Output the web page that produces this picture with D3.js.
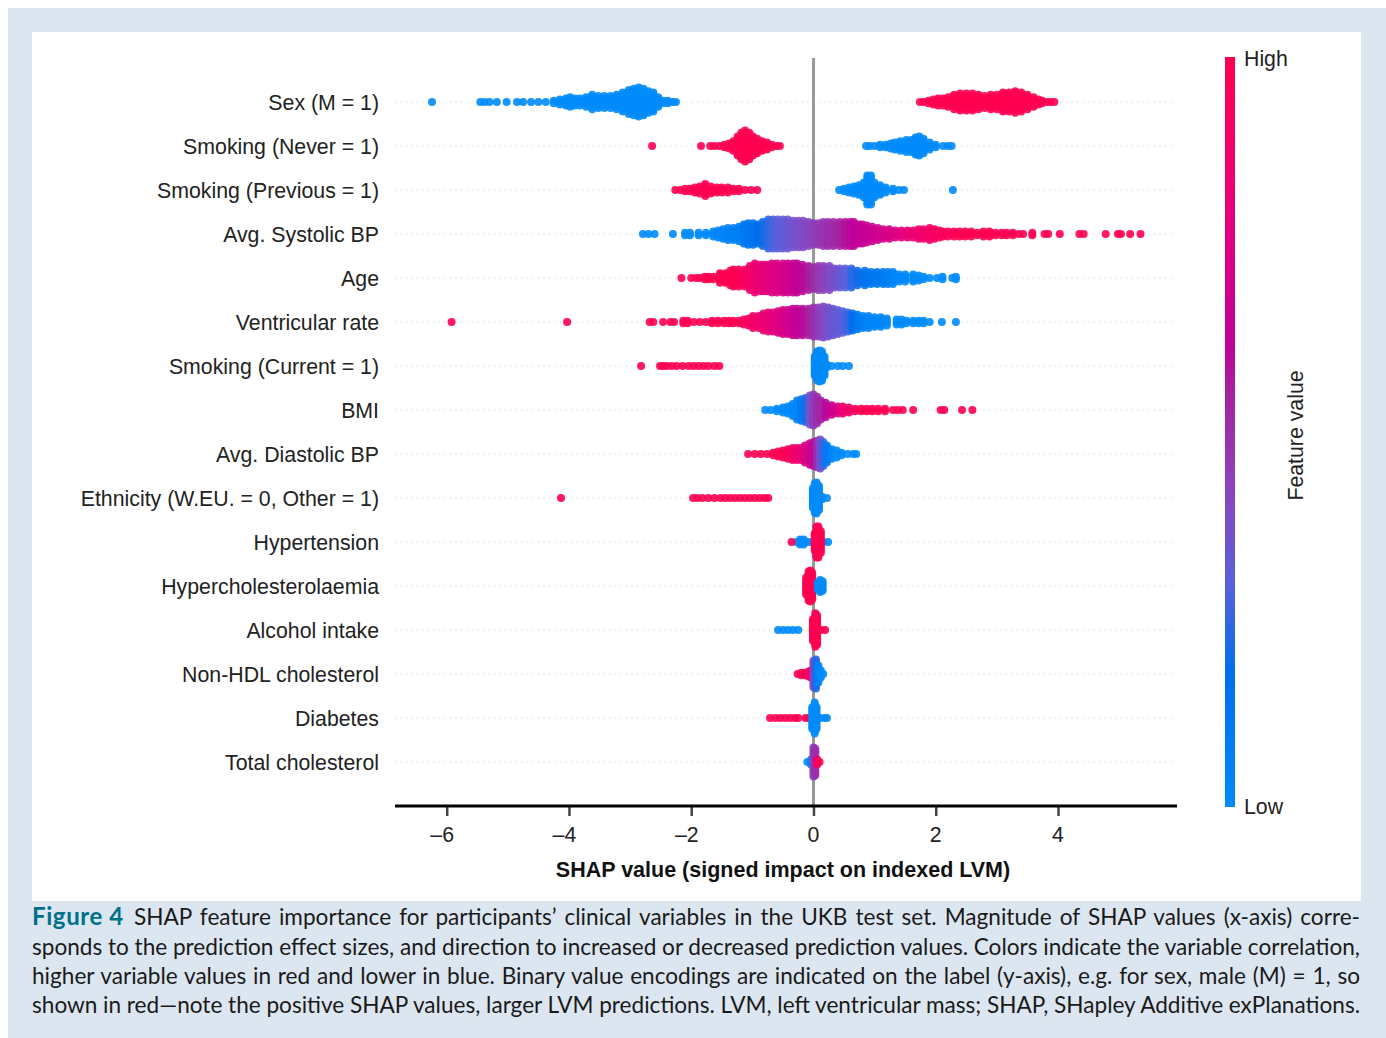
<!DOCTYPE html>
<html><head><meta charset="utf-8">
<script src="https://cdn.jsdelivr.net/npm/d3@7"></script>
<style>html,body{margin:0;padding:0;background:#fff}svg{display:block}</style>
</head><body><svg id="c" width="1386" height="1038"></svg>
<script>
const features=["Sex (M = 1)","Smoking (Never = 1)","Smoking (Previous = 1)","Avg. Systolic BP","Age","Ventricular rate","Smoking (Current = 1)","BMI","Avg. Diastolic BP","Ethnicity (W.EU. = 0, Other = 1)","Hypertension","Hypercholesterolaemia","Alcohol intake","Non-HDL cholesterol","Diabetes","Total cholesterol"];
const xTicks=[-6,-4,-2,0,2,4];
const xTitle="SHAP value (signed impact on indexed LVM)";
const barLabels=["High","Low","Feature value"];
const captionHead="Figure 4";
const captionLines=["SHAP feature importance for participants\u2019 clinical variables in the UKB test set. Magnitude of SHAP values (x-axis) corre-","sponds to the prediction effect sizes, and direction to increased or decreased prediction values. Colors indicate the variable correlation,","higher variable values in red and lower in blue. Binary value encodings are indicated on the label (y-axis), e.g. for sex, male (M) = 1, so","shown in red\u2014note the positive SHAP values, larger LVM predictions. LVM, left ventricular mass; SHAP, SHapley Additive exPlanations."];

// Each pair: SHAP position of a swarm column, number of participants stacked in that column
const sexLowX=[-6.24,-5.45,-5.38,-5.3,-5.18,-5.02,-4.85,-4.75,-4.62,-4.5,-4.38,-4.25,-4.15,-4.05,-3.98,-3.9,-3.82,-3.72,-3.62,-3.52,-3.42,-3.32,-3.22,-3.12,-3.02,-2.94,-2.86,-2.78,-2.7,-2.62,-2.54,-2.46,-2.38,-2.3,-2.25];
const sexLowN=[1,1,1,1,1,1,1,1,1,1,1,2,3,4,5,4,4,5,7,6,6,6,7,9,11,12,13,12,10,9,5,2,2,1,1];
const sexHighX=[1.74,1.8,1.88,1.96,2.04,2.12,2.2,2.3,2.4,2.5,2.6,2.7,2.8,2.9,3.0,3.1,3.2,3.3,3.4,3.5,3.6,3.68,3.74,3.82,3.88,3.94];
const sexHighN=[1,1,2,3,4,4,5,7,8,8,8,7,6,7,7,9,9,10,9,7,5,3,2,1,1,1];
const neverHighX=[-2.64,-1.84,-1.69,-1.62,-1.54,-1.46,-1.38,-1.31,-1.24,-1.18,-1.12,-1.05,-0.99,-0.92,-0.84,-0.76,-0.68,-0.6,-0.55];
const neverHighN=[1,1,1,1,1,2,3,5,9,12,14,12,9,7,5,4,2,1,1];
const neverLowX=[0.86,0.92,1.0,1.09,1.18,1.26,1.33,1.42,1.52,1.6,1.67,1.73,1.8,1.9,2.0,2.12,2.2,2.26];
const neverLowN=[1,1,1,2,2,3,4,5,6,6,8,9,7,4,2,1,1,1];
const prevHighX=[-2.26,-2.18,-2.1,-2.02,-1.94,-1.86,-1.77,-1.68,-1.58,-1.5,-1.4,-1.31,-1.22,-1.12,-1.02,-0.92];
const prevHighN=[1,1,2,2,3,4,6,4,3,3,3,2,2,1,1,1];
const prevLowX=[0.42,0.5,0.58,0.66,0.74,0.82,0.88,0.94,1.0,1.09,1.18,1.3,1.4,1.48,2.28];
const prevLowN=[1,2,3,4,5,7,13,13,7,5,3,2,1,1,1];
const sbpX=[-2.79,-2.7,-2.6,-2.3,-2.1,-2.02,-1.88,-1.76,-1.64,-1.56,-1.48,-1.4,-1.31,-1.22,-1.14,-1.07,-0.99,-0.91,-0.83,-0.74,-0.66,-0.58,-0.5,-0.42,-0.33,-0.25,-0.17,-0.08,0,0.08,0.16,0.24,0.33,0.43,0.52,0.6,0.66,0.74,0.8,0.87,0.96,1.05,1.14,1.24,1.34,1.44,1.54,1.63,1.72,1.8,1.9,1.98,2.06,2.12,2.2,2.3,2.39,2.48,2.58,2.68,2.78,2.88,2.98,3.08,3.16,3.26,3.36,3.43,3.58,3.78,3.84,4.03,4.35,4.42,4.78,4.98,5.03,5.18,5.35];
const sbpN=[1,1,1,1,2,2,2,2,3,4,5,6,6,7,9,10,10,9,11,13,13,13,13,13,12,12,12,11,10,10,11,11,11,11,11,11,11,9,9,8,7,6,5,5,4,4,4,4,5,5,6,5,4,3,3,3,3,3,3,2,3,3,2,2,2,2,1,1,2,1,1,1,1,1,1,1,1,1,1];
const sbpF=[0,0,0,0,0,0,0.01,0.02,0.02,0.03,0.04,0.06,0.08,0.08,0.1,0.12,0.14,0.18,0.2,0.24,0.28,0.3,0.32,0.34,0.36,0.38,0.4,0.42,0.44,0.47,0.48,0.5,0.52,0.55,0.58,0.6,0.62,0.63,0.64,0.65,0.67,0.69,0.71,0.73,0.75,0.78,0.82,0.84,0.86,0.88,0.9,0.92,0.94,0.95,0.97,0.98,1,1,1,1,1,1,1,1,1,1,1,1,1,1,1,1,1,1,1,1,1,1,1];
const ageX=[-2.16,-2.0,-1.92,-1.86,-1.78,-1.72,-1.64,-1.53,-1.44,-1.36,-1.31,-1.22,-1.12,-1.04,-0.96,-0.88,-0.82,-0.76,-0.68,-0.6,-0.5,-0.42,-0.33,-0.27,-0.18,-0.08,0,0.08,0.16,0.26,0.34,0.43,0.52,0.62,0.72,0.84,0.94,1.04,1.14,1.22,1.3,1.4,1.5,1.63,1.72,1.8,1.9,2.02,2.11,2.27,2.33];
const ageN=[1,1,1,1,2,2,2,5,5,7,8,8,8,11,13,12,12,12,13,13,13,13,13,13,12,11,10,11,11,11,9,9,9,9,7,7,6,6,6,6,6,4,4,4,3,2,1,1,2,1,2];
const ageF=[1,1,1,1,1,1,1,1,1,1,1,0.97,0.93,0.88,0.84,0.82,0.8,0.78,0.76,0.74,0.72,0.69,0.66,0.64,0.6,0.56,0.52,0.47,0.44,0.4,0.37,0.33,0.3,0.24,0.2,0.15,0.13,0.11,0.1,0.08,0.05,0.03,0.02,0,0,0,0,0,0,0,0];
const vrX=[-5.92,-4.03,-2.68,-2.62,-2.46,-2.34,-2.28,-2.13,-2.06,-1.96,-1.86,-1.76,-1.66,-1.56,-1.46,-1.38,-1.31,-1.22,-1.14,-1.06,-0.99,-0.9,-0.82,-0.74,-0.66,-0.58,-0.5,-0.42,-0.34,-0.27,-0.18,-0.08,0,0.08,0.16,0.24,0.32,0.4,0.48,0.56,0.64,0.72,0.81,0.9,1.0,1.1,1.2,1.36,1.44,1.52,1.63,1.72,1.8,1.9,2.1,2.33];
const vrN=[1,1,1,1,1,1,1,2,2,1,1,1,2,2,2,2,2,2,3,4,6,6,8,9,9,10,11,11,12,12,12,12,13,13,14,13,12,11,10,9,8,7,6,6,5,5,4,3,3,2,2,2,2,1,1,1];
const vrF=[1,1,1,1,1,1,1,1,1,1,1,1,1,1,1,1,1,0.97,0.95,0.92,0.89,0.86,0.84,0.81,0.78,0.76,0.72,0.7,0.66,0.64,0.6,0.55,0.5,0.45,0.4,0.37,0.34,0.32,0.3,0.25,0.18,0.12,0.08,0.05,0.04,0.03,0.02,0,0,0,0,0,0,0,0,0];
const curHighX=[-2.82,-2.51,-2.46,-2.4,-2.32,-2.24,-2.14,-2.04,-1.96,-1.88,-1.8,-1.72,-1.62,-1.54];
const curHighN=[1,1,1,1,1,1,1,1,1,1,1,1,1,1];
const curLowX=[0.02,0.06,0.1,0.14,0.18,0.22,0.3,0.4,0.48,0.58];
const curLowN=[9,13,14,13,9,2,1,1,1,1];
const bmiX=[-0.79,-0.7,-0.6,-0.5,-0.42,-0.34,-0.27,-0.2,-0.13,-0.06,0,0.06,0.12,0.2,0.3,0.4,0.48,0.58,0.68,0.78,0.87,0.96,1.06,1.17,1.3,1.38,1.46,1.63,2.08,2.14,2.43,2.6];
const bmiN=[1,1,2,3,4,6,9,10,11,13,14,12,9,7,5,4,4,3,2,2,2,2,2,2,1,1,1,1,1,1,1,1];
const bmiF=[0,0,0,0.01,0.01,0.02,0.03,0.1,0.22,0.35,0.45,0.5,0.54,0.6,0.68,0.76,0.84,0.9,0.96,1,1,1,1,1,1,1,1,1,1,1,1,1];
const dbpX=[-1.07,-0.96,-0.86,-0.76,-0.66,-0.58,-0.5,-0.42,-0.34,-0.27,-0.2,-0.14,-0.06,0,0.06,0.11,0.16,0.22,0.3,0.38,0.46,0.56,0.65,0.7];
const dbpN=[1,1,1,1,2,3,4,5,6,6,6,8,10,11,12,13,11,8,5,4,2,1,1,1];
const dbpF=[1,1,1,1,1,1,0.98,0.95,0.9,0.86,0.8,0.75,0.68,0.6,0.5,0.38,0.25,0.1,0.04,0,0,0,0,0];
const ethHighX=[-4.13,-1.97,-1.9,-1.82,-1.72,-1.62,-1.52,-1.44,-1.36,-1.28,-1.2,-1.12,-1.04,-0.96,-0.88,-0.8,-0.74];
const ethHighN=[1,1,1,1,1,1,1,1,1,1,1,1,1,1,1,1,1];
const ethLowX=[-0.01,0.02,0.05,0.09,0.14,0.22];
const ethLowN=[9,13,14,11,2,1];
const hypLowX=[-0.28,-0.22,-0.16,-0.09,-0.02,0.03,0.08,0.16,0.24];
const hypLowN=[1,3,3,1,1,1,1,1,1];
const hypHighX=[-0.36,0.02,0.05,0.08,0.12];
const hypHighN=[1,8,14,14,10];
const cholHighX=[-0.12,-0.08,-0.05,-0.02];
const cholHighN=[8,13,14,12];
const cholLowX=[0.07,0.11,0.15];
const cholLowN=[4,6,5];
const alcLowX=[-0.58,-0.5,-0.42,-0.34,-0.25];
const alcLowN=[1,1,1,1,1];
const alcHighX=[-0.01,0.03,0.06,0.12,0.19];
const alcHighN=[10,15,13,1,1];
const hdlX=[-0.26,-0.2,-0.14,-0.08,-0.04,0,0.04,0.08,0.12,0.16];
const hdlN=[1,2,2,3,4,12,13,8,4,1];
const hdlF=[1,1,1,0.95,0.85,0.42,0.22,0.05,0,0];
const dmHighX=[-0.71,-0.62,-0.54,-0.46,-0.38,-0.3,-0.25,-0.13,-0.07];
const dmHighN=[1,1,1,1,1,1,1,1,1];
const dmLowX=[-0.02,0.02,0.05,0.11,0.18,0.22];
const dmLowN=[10,14,10,1,1,1];
const totX=[-0.1,-0.04,0,0.03,0.06,0.1];
const totN=[1,3,13,12,3,1];
const totF=[0.02,0.05,0.42,0.5,0.9,1];
const LOW=0,HIGH=1;

const groups=[
 [0,sexLowX,sexLowN,LOW],[0,sexHighX,sexHighN,HIGH],
 [1,neverHighX,neverHighN,HIGH],[1,neverLowX,neverLowN,LOW],
 [2,prevHighX,prevHighN,HIGH],[2,prevLowX,prevLowN,LOW],
 [3,sbpX,sbpN,sbpF],[4,ageX,ageN,ageF],[5,vrX,vrN,vrF],
 [6,curHighX,curHighN,HIGH],[6,curLowX,curLowN,LOW],
 [7,bmiX,bmiN,bmiF],[8,dbpX,dbpN,dbpF],
 [9,ethHighX,ethHighN,HIGH],[9,ethLowX,ethLowN,LOW],
 [10,hypLowX,hypLowN,LOW],[10,hypHighX,hypHighN,HIGH],
 [11,cholHighX,cholHighN,HIGH],[11,cholLowX,cholLowN,LOW],
 [12,alcLowX,alcLowN,LOW],[12,alcHighX,alcHighN,HIGH],
 [13,hdlX,hdlN,hdlF],
 [14,dmHighX,dmHighN,HIGH],[14,dmLowX,dmLowN,LOW],
 [15,totX,totN,totF]
];

const svg=d3.select("#c");
const SANS="'Liberation Sans',Arial,sans-serif", LATO="Lato,sans-serif";
svg.append("rect").attr("x",8).attr("y",8).attr("width",1378).attr("height",1030).attr("fill","#dce6f0");
svg.append("rect").attr("x",32).attr("y",32).attr("width",1329).attr("height",869).attr("fill","#fff");

const x=d3.scaleLinear().domain([-6,4]).range([446.7,1058]);
const y=d3.scalePoint().domain(d3.range(features.length)).range([102,762]);
const color=d3.scaleLinear()
 .domain([0,0.18,0.3,0.42,0.55,0.62,0.8,1])
 .range(["#008bfb","#006fec","#5a60dc","#8a45c0","#a622a0","#c0009a","#e8007a","#ff0051"]);
const axisLeft=395,axisRight=1177,axisY=806;
const STEP=2.4,R=4;

// grid
svg.append("g").selectAll("line").data(d3.range(features.length)).join("line")
 .attr("x1",axisLeft).attr("x2",axisRight-2).attr("y1",d=>y(d)).attr("y2",d=>y(d))
 .attr("stroke","#ccc").attr("stroke-width",1).attr("stroke-dasharray","1 4.5");
// zero line
svg.append("line").attr("x1",x(0)).attr("x2",x(0)).attr("y1",58).attr("y2",axisY)
 .attr("stroke","#999").attr("stroke-width",3);

// swarm
const pts=[];
groups.forEach(([row,xs,ns,f])=>{
 xs.forEach((v,i)=>{
  const n=ns[i];
  for(let k=0;k<n;k++) pts.push({row,v,k,n,f:Array.isArray(f)?f[i]:f});
 });
});
svg.append("g").selectAll("circle").data(pts).join("circle")
 .attr("cx",d=>x(d.v))
 .attr("cy",d=>y(d.row)+(d.k-(d.n-1)/2)*STEP)
 .attr("r",R).attr("fill",d=>color(d.f)).attr("fill-opacity",0.9);

// feature labels
svg.append("g").selectAll("text").data(features).join("text")
 .attr("x",379).attr("y",(d,i)=>y(i)+7.8).attr("text-anchor","end")
 .attr("font-family",SANS).attr("font-size",21.3).attr("fill","#222").text(d=>d);

// x axis
const ax=svg.append("g").attr("transform",`translate(0,${axisY})`)
 .call(d3.axisBottom(x).tickValues(xTicks).tickSize(10).tickPadding(11)
 .tickFormat(d=>d<0?"\u2013"+Math.abs(d):d));
ax.select(".domain").remove();
ax.append("line").attr("x1",axisLeft).attr("x2",axisRight).attr("stroke","#000").attr("stroke-width",3);
ax.selectAll(".tick line").attr("stroke","#444").attr("stroke-width",2.5);
ax.selectAll(".tick text").attr("font-family",SANS).attr("font-size",21.3).attr("fill","#222")
 .attr("dx",d=>d<0?-5:-0.5);
svg.append("text").attr("x",783).attr("y",877).attr("text-anchor","middle")
 .attr("font-family",SANS).attr("font-weight","bold").attr("font-size",21.5).attr("fill","#111").text(xTitle);

// colour bar
const gradId="cb",defs=svg.append("defs").append("linearGradient").attr("id",gradId)
 .attr("x1",0).attr("x2",0).attr("y1",1).attr("y2",0);
color.domain().forEach(t=>defs.append("stop").attr("offset",t).attr("stop-color",color(t)));
svg.append("rect").attr("x",1225).attr("y",57).attr("width",10).attr("height",750).attr("fill",`url(#${gradId})`);
svg.append("text").attr("x",1244).attr("y",66).attr("font-family",SANS).attr("font-size",21.3).attr("fill","#222").text(barLabels[0]);
svg.append("text").attr("x",1244).attr("y",814).attr("font-family",SANS).attr("font-size",21.3).attr("fill","#222").text(barLabels[1]);
svg.append("text").attr("transform","translate(1302.5,435.5) rotate(-90)").attr("text-anchor","middle")
 .attr("font-family",SANS).attr("font-size",21.3).attr("fill","#222").text(barLabels[2]);

// caption, justified by word spacing
const capY=[925,955,984,1013],capL=32,capR=1360;
svg.append("text").attr("x",capL).attr("y",capY[0]).attr("font-family",LATO).attr("font-weight","bold")
 .attr("font-size",24).attr("letter-spacing",0.6).attr("fill","#00708a").text(captionHead);
captionLines.forEach((line,i)=>{
 const left=i===0?134:capL;
 const t=svg.append("text").attr("x",left).attr("y",capY[i]).attr("font-family",LATO).attr("font-size",22.6).attr("fill","#1a1a1a").text(line);
 const spaces=(line.match(/ /g)||[]).length;
 const w=t.node().getComputedTextLength();
 t.style("word-spacing",((capR-left-w)/spaces)+"px");
});
</script></body></html>
